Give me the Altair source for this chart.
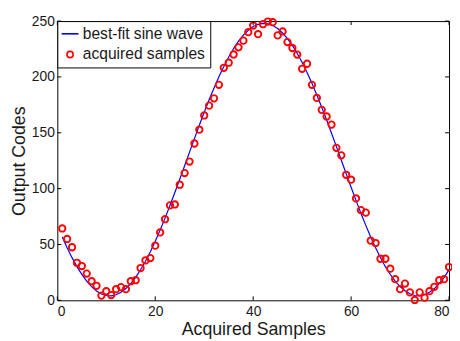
import altair as alt
import pandas as pd

series_names = ["best-fit sine wave", "acquired samples"]
sample_index = list(range(1, 81))
samples = [64.3, 54.9, 47.5, 33.6, 30.7, 23.9, 17.1, 13.0, 4.2, 8.2,
           4.7, 10.0, 11.8, 10.0, 17.1, 18.0, 28.9, 35.7, 37.8, 48.9,
           60.8, 72.6, 85.0, 85.8, 103.5, 113.9, 124.2, 140.4, 152.8, 165.5,
           174.3, 180.8, 192.9, 208.2, 212.7, 220.1, 226.5, 232.5, 240.1, 246.0,
           238.3, 247.2, 249.6, 249.0, 237.2, 240.7, 231.2, 225.9, 220.0, 207.3,
           211.8, 192.9, 181.2, 170.5, 164.6, 157.3, 136.5, 129.8, 112.4, 108.0,
           91.2, 80.8, 78.5, 53.4, 51.3, 37.2, 37.2, 28.3, 18.9, 10.0,
           15.0, 7.1, 0.3, 7.1, 2.4, 8.2, 12.1, 18.0, 18.9, 29.8]
fit = [56.6, 47.1, 38.2, 30.2, 23.2, 17.2, 12.2, 8.4, 5.7, 4.3,
       4.0, 5.0, 7.2, 10.5, 15.0, 20.6, 27.3, 34.9, 43.5, 52.8,
       62.9, 73.6, 84.9, 96.5, 108.4, 120.5, 132.7, 144.8, 156.7, 168.3,
       179.5, 190.1, 200.1, 209.4, 217.9, 225.4, 232.0, 237.4, 241.8, 245.1,
       247.1, 248.0, 247.6, 246.0, 243.3, 239.3, 234.3, 228.2, 221.0, 212.9,
       204.0, 194.3, 183.9, 172.9, 161.4, 149.6, 137.6, 125.4, 113.3, 101.2,
       89.5, 78.0, 67.1, 56.7, 47.0, 38.1, 30.1, 23.1, 17.2, 12.3,
       8.5, 5.8, 4.3, 4.0, 5.0, 7.2, 10.5, 15.0, 20.6, 27.3]
x_ticks = [0, 20, 40, 60, 80]
y_ticks = [0, 50, 100, 150, 200, 250]

W, H = 397, 283
FONT = "Liberation Sans"
TXT = "#1a1a1a"

df_fit = pd.DataFrame({"x": sample_index, "y": fit, "series": series_names[0]})
df_s = pd.DataFrame({"x": sample_index, "y": samples, "series": series_names[1]})
df_xt = pd.DataFrame({"x": x_ticks})
df_yt = pd.DataFrame({"y": y_ticks})

xs = alt.Scale(domain=[0, 80], nice=False)
ys = alt.Scale(domain=[0, 250], nice=False)

leg = alt.Legend(title=None, orient="top-left", offset=0, strokeColor="black",
                 fillColor="white", padding=5, labelFont=FONT, labelFontSize=15.8,
                 labelColor=TXT, symbolSize=40, symbolStrokeWidth=1.6,
                 rowPadding=4, labelOffset=5, symbolOffset=0, cornerRadius=0)

color = alt.Color("series:N", scale=alt.Scale(domain=series_names, range=["#0000ff", "#ff0000"]),
                  legend=leg)
shape = alt.Shape("series:N", scale=alt.Scale(domain=series_names, range=["M-2.7,0L2.7,0", "circle"]),
                  legend=leg)

xaxis = alt.Axis(values=x_ticks, labelPadding=4, titlePadding=3)
yaxis = alt.Axis(values=y_ticks, labelPadding=3, titlePadding=3)
xenc = alt.X("x:Q", scale=xs, title="Acquired Samples", axis=xaxis)
yenc = alt.Y("y:Q", scale=ys, title="Output Codes", axis=yaxis)

line = alt.Chart(df_fit).mark_line(strokeWidth=1.2).encode(x=xenc, y=yenc, color=color)
pts = alt.Chart(df_s).mark_point(filled=False, size=42, strokeWidth=1.9, opacity=1).encode(
    x=xenc, y=yenc, color=color, shape=shape)

tick_b = alt.Chart(df_xt).mark_rule(color="black").encode(x=xenc, y=alt.value(H), y2=alt.value(H - 4))
tick_t = alt.Chart(df_xt).mark_rule(color="black").encode(x=xenc, y=alt.value(0), y2=alt.value(4))
tick_l = alt.Chart(df_yt).mark_rule(color="black").encode(y=yenc, x=alt.value(0), x2=alt.value(4))
tick_r = alt.Chart(df_yt).mark_rule(color="black").encode(y=yenc, x=alt.value(W), x2=alt.value(W - 4))

chart = alt.layer(line, pts, tick_b, tick_t, tick_l, tick_r).properties(
    width=W, height=H,
    autosize=alt.AutoSizeParams(type="none"),
    padding={"left": 50, "top": 11, "right": 3, "bottom": 40},
).configure_view(stroke="black", strokeWidth=1).configure_axis(
    grid=False, domain=False, tickSize=0, labelFont=FONT, labelFontSize=14,
    labelColor=TXT, titleFont=FONT, titleFontSize=18, titleFontWeight="normal",
    titleColor=TXT
)

chart.save("out.html", embed_options={"renderer": "svg", "actions": False})
